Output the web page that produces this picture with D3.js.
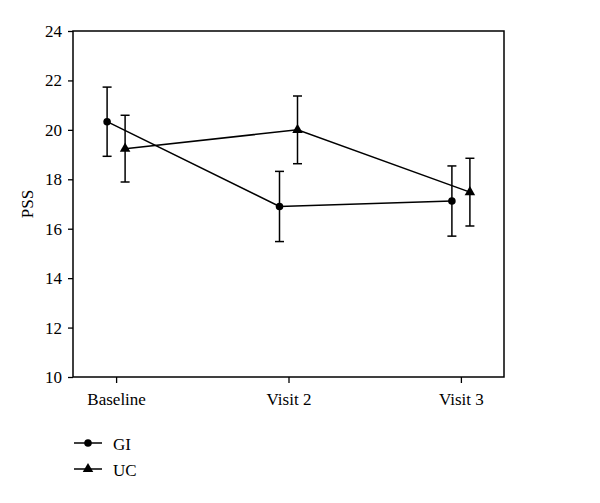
<!DOCTYPE html>
<html>
<head>
<meta charset="utf-8">
<script src="https://cdn.jsdelivr.net/npm/d3@7"></script>
<style>
body { margin: 0; background: #fff; }
text { font-family: "Liberation Serif", "DejaVu Serif", serif; fill: #000; }
</style>
</head>
<body>
<div id="chart"></div>
<script>
// data
const visits = ["Baseline", "Visit 2", "Visit 3"];
const gi_mean = [20.33, 16.9, 17.12];
const gi_err = [1.4, 1.42, 1.42];
const uc_mean = [19.24, 20.0, 17.48];
const uc_err = [1.35, 1.37, 1.37];
const y_ticks = [10, 12, 14, 16, 18, 20, 22, 24];

const width_chart = 600, height_chart = 503;
const plot_left = 73, plot_right = 504, plot_top = 31, plot_bottom = 377;
const shift = 9;

const svg = d3.select("#chart")
   .append("svg")
   .attr("width", width_chart)
   .attr("height", height_chart);

const x = d3.scaleLinear()
   .domain([-0.25, visits.length - 0.75])
   .range([plot_left, plot_right]);

const y = d3.scaleLinear()
   .domain([10, 24])
   .range([plot_bottom, plot_top]);

// frame
svg.append("rect")
   .attr("x", plot_left).attr("y", plot_top)
   .attr("width", plot_right - plot_left).attr("height", plot_bottom - plot_top)
   .attr("fill", "none").attr("stroke", "#000").attr("stroke-width", 1.5);

// y axis
const yAxis = svg.append("g")
   .attr("transform", `translate(${plot_left},0)`)
   .call(d3.axisLeft(y).tickValues(y_ticks).tickSize(5).tickPadding(6));
yAxis.select(".domain").remove();
yAxis.selectAll("line").attr("stroke-width", 1.3);
yAxis.selectAll("text").attr("font-size", 17).style("font-family", "Liberation Serif");

// x axis
const xAxis = svg.append("g")
   .attr("transform", `translate(0,${plot_bottom})`)
   .call(d3.axisBottom(x).tickValues(d3.range(visits.length)).tickFormat(i => visits[i]).tickSize(6).tickPadding(10));
xAxis.select(".domain").remove();
xAxis.selectAll("line").attr("stroke-width", 1.3);
xAxis.selectAll("text").attr("font-size", 17).style("font-family", "Liberation Serif");

// y label
svg.append("text")
   .attr("transform", `translate(33,${(plot_top + plot_bottom) / 2}) rotate(-90)`)
   .attr("text-anchor", "middle")
   .attr("font-size", 17)
   .text("PSS");

const series = [
   { name: "GI", mean: gi_mean, err: gi_err, off: -shift, shape: d3.symbolCircle, size: 45 },
   { name: "UC", mean: uc_mean, err: uc_err, off: shift, shape: d3.symbolTriangle, size: 48 }
];

const line = d3.line();

series.forEach(s => {
   const pts = s.mean.map((v, i) => [x(i) + s.off, y(v)]);
   const g = svg.append("g");

   // error bars
   s.mean.forEach((v, i) => {
      const cx = x(i) + s.off;
      const y1 = y(v + s.err[i]), y2 = y(v - s.err[i]);
      g.append("line").attr("x1", cx).attr("x2", cx).attr("y1", y1).attr("y2", y2)
         .attr("stroke", "#000").attr("stroke-width", 1.5);
      [y1, y2].forEach(yy => {
         g.append("line").attr("x1", cx - 4.5).attr("x2", cx + 4.5).attr("y1", yy).attr("y2", yy)
            .attr("stroke", "#000").attr("stroke-width", 1.5);
      });
   });

   g.append("path")
      .attr("d", line(pts))
      .attr("fill", "none").attr("stroke", "#000").attr("stroke-width", 1.5);

   g.selectAll("path.m").data(pts).enter().append("path")
      .attr("class", "m")
      .attr("transform", d => `translate(${d[0]},${d[1]})`)
      .attr("d", d3.symbol().type(s.shape).size(s.size))
      .attr("fill", "#000");
});

// legend
series.forEach((s, i) => {
   const ly = 443 + i * 26;
   svg.append("line")
      .attr("x1", 74).attr("x2", 102).attr("y1", ly).attr("y2", ly)
      .attr("stroke", "#000").attr("stroke-width", 1.5);
   svg.append("path")
      .attr("transform", `translate(88,${ly})`)
      .attr("d", d3.symbol().type(s.shape).size(s.size))
      .attr("fill", "#000");
   svg.append("text")
      .attr("x", 113).attr("y", ly + 7)
      .attr("font-size", 17)
      .text(s.name);
});
</script>
</body>
</html>
